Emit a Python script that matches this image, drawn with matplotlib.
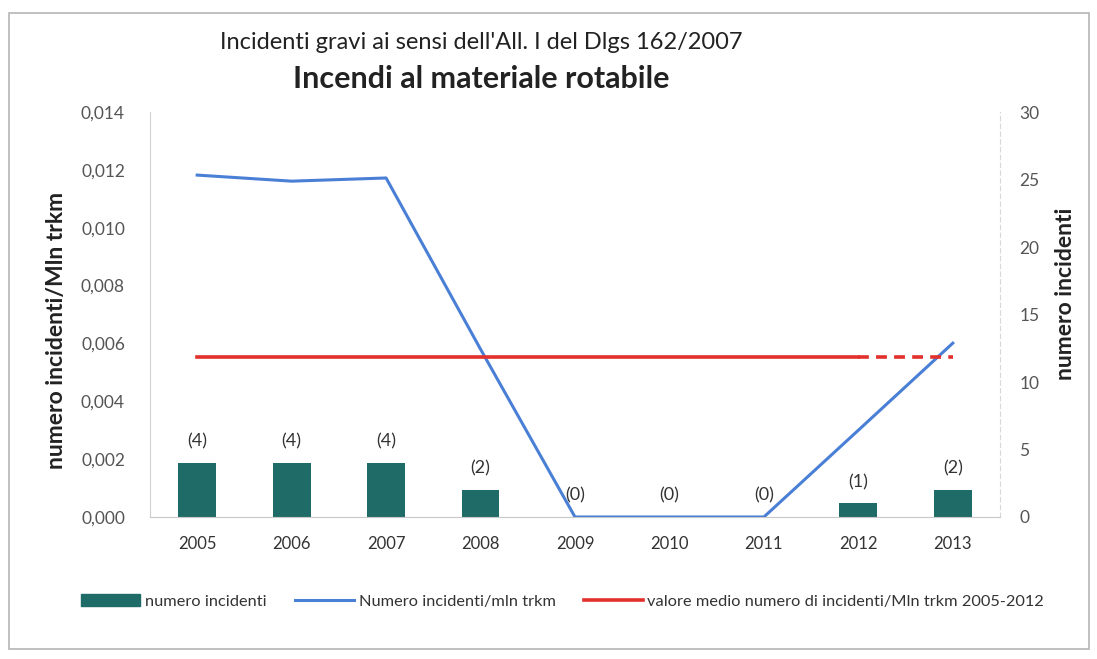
import matplotlib
matplotlib.use("Agg")
import matplotlib.pyplot as plt
from matplotlib.lines import Line2D
from matplotlib.patches import Rectangle

plt.rcParams['font.family'] = ['Lato', 'DejaVu Sans']

anni = ["2005", "2006", "2007", "2008", "2009", "2010", "2011", "2012", "2013"]
numero_incidenti = [4, 4, 4, 2, 0, 0, 0, 1, 2]
incidenti_mln_trkm = [0.01182, 0.01161, 0.01172, 0.0058, 0.0, 0.0, 0.0, 0.0030, 0.00601]
valore_medio = 0.00553

bar_col = "#1f6b67"
blu = "#4a7fd6"
rosso = "#e2302c"
grigio = "#555555"

fig = plt.figure(figsize=(10.97, 6.59), dpi=100)
fig.patches.append(Rectangle((0.008, 0.015), 0.985, 0.965, transform=fig.transFigure,
                             fill=False, edgecolor="#b5b5b5", lw=1.2))

ax = fig.add_axes([0.1367, 0.2155, 0.7749, 0.6145])
ax2 = ax.twinx()
ax.set_zorder(ax2.get_zorder() + 1)
ax.patch.set_visible(False)

x = list(range(len(anni)))

# barre sull'asse destro
ax2.bar(x, numero_incidenti, width=0.4, color=bar_col, zorder=2)
for xi, v in zip(x, numero_incidenti):
    ax2.text(xi, v + 1.0, f"({v})", ha="center", va="bottom", fontsize=13, color="#333333")
ax2.set_ylim(0, 30)
ax2.set_yticks(range(0, 31, 5))
ax2.set_ylabel("numero incidenti", fontsize=16.5, fontweight="bold", color="#222222")
ax2.yaxis.set_label_coords(1.065, 0.55)

# linee sull'asse sinistro
ax.plot(x, incidenti_mln_trkm, color=blu, lw=2.2, zorder=3)
ax.plot(x[:-1], [valore_medio] * (len(x) - 1), color=rosso, lw=2.6, zorder=3)
ax.plot(x[-2:], [valore_medio] * 2, color=rosso, lw=2.6, ls=(0, (3, 2)), zorder=3)
ax.set_ylim(0, 0.014)
ax.set_xlim(-0.5, len(anni) - 0.5)
ax.set_yticks([i * 0.002 for i in range(8)])
ax.set_yticklabels([f"{i * 0.002:.3f}".replace(".", ",") for i in range(8)])
ax.set_xticks(x)
ax.set_xticklabels(anni)
ax.set_ylabel("numero incidenti/Mln trkm", fontsize=16.5, fontweight="bold", color="#222222")
ax.yaxis.set_label_coords(-0.098, 0.46)

for a in (ax, ax2):
    for s in a.spines.values():
        s.set_visible(False)
    a.tick_params(labelsize=12.5, colors=grigio, length=0)

ax.spines["left"].set_visible(True)
ax.spines["left"].set_color("#d0d0d0")
ax.spines["bottom"].set_visible(True)
ax.spines["bottom"].set_color("#c8c8c8")
ax2.spines["right"].set_visible(True)
ax2.spines["right"].set_color("#d8d8d8")
ax2.spines["right"].set_linestyle((0, (4, 3)))
ax.tick_params(axis="x", pad=14, labelcolor="#333333", labelsize=12)
ax.tick_params(axis="y", pad=18)
ax2.tick_params(axis="y", pad=14)

fig.text(0.439, 0.935, "Incidenti gravi ai sensi dell'All. I del Dlgs 162/2007",
         ha="center", va="center", fontsize=17, color="#222222")
fig.text(0.439, 0.88, "Incendi al materiale rotabile",
         ha="center", va="center", fontsize=22, fontweight="bold", color="#222222")

handles = [
    Rectangle((0, 0), 1, 1, color=bar_col),
    Line2D([], [], color=blu, lw=2.2),
    Line2D([], [], color=rosso, lw=2.6),
]
labels = ["numero incidenti", "Numero incidenti/mln trkm",
          "valore medio numero di incidenti/Mln trkm 2005-2012"]
fig.legend(handles, labels, loc="center", bbox_to_anchor=(0.513, 0.087), ncol=3,
           frameon=False, fontsize=11.8, handlelength=3.6, handletextpad=0.3,
           columnspacing=1.7, labelcolor="#333333")

fig.savefig("out.png", dpi=100)
